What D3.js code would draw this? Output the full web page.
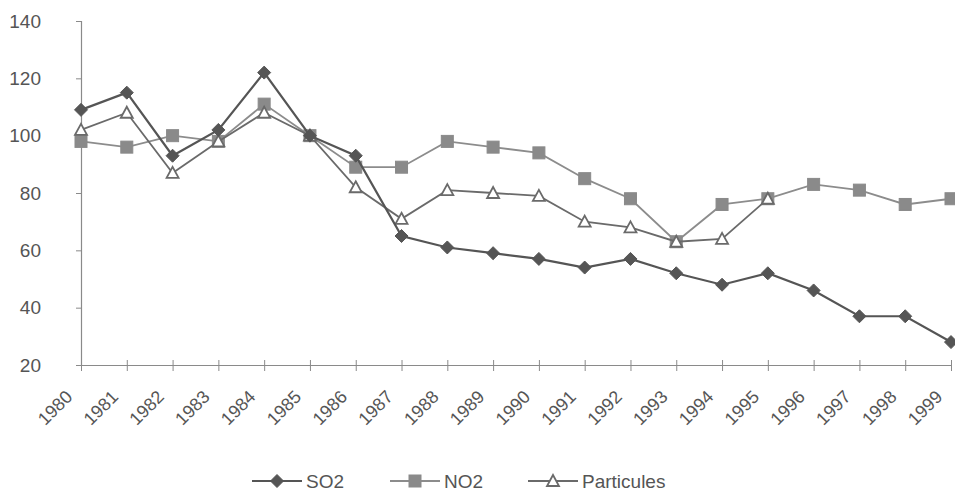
<!DOCTYPE html>
<html><head><meta charset="utf-8">
<script src="https://cdn.jsdelivr.net/npm/d3@7"></script>
<style>body{margin:0;background:#fff}svg{display:block}text{font-family:Arial,"Liberation Sans",sans-serif}</style>
</head><body><svg id="c" width="955" height="494"></svg>
<script>
const years = [1980,1981,1982,1983,1984,1985,1986,1987,1988,1989,1990,1991,1992,1993,1994,1995,1996,1997,1998,1999];
const so2 = [109,115,93,102,122,100,93,65,61,59,57,54,57,52,48,52,46,37,37,28];
const no2 = [98,96,100,98,111,100,89,89,98,96,94,85,78,63,76,78,83,81,76,78];
const particules = [102,108,87,98,108,100,82,71,81,80,79,70,68,63,64,78];
const yTicks = [20,40,60,80,100,120,140];
const seriesNames = ["SO2","NO2","Particules"];

const svg = d3.select("#c");
const x = d3.scalePoint().domain(years).range([81,951]);
const y = d3.scaleLinear().domain([20,140]).range([365,21]);
const axisCol = "#8a8a8a", textCol = "#555";

// y axis
const ya = svg.append("g").attr("transform","translate(81,0)")
  .call(d3.axisLeft(y).tickValues(yTicks).tickSize(5).tickPadding(35));
ya.select(".domain").attr("stroke",axisCol).attr("stroke-width",1.2);
ya.selectAll(".tick line").attr("stroke",axisCol);
ya.selectAll(".tick text").attr("fill",textCol).style("font-size","19px");

// x axis
const xa = svg.append("g").attr("transform","translate(0,365)")
  .call(d3.axisBottom(x).tickSize(6).tickSizeOuter(0));
xa.select(".domain").attr("stroke",axisCol).attr("stroke-width",1.2);
xa.selectAll(".tick line").attr("stroke",axisCol).attr("y1",-5);
xa.selectAll(".tick text").attr("fill",textCol).style("font-size","18px")
  .attr("text-anchor","end").attr("y",0).attr("dy",0)
  .attr("transform","translate(-8,33) rotate(-45)");

const styles = [
  {vals: so2, stroke:"#555", sw:2.2, marker:"diamond", fill:"#555", mstroke:"#555"},
  {vals: no2, stroke:"#8c8c8c", sw:1.8, marker:"square", fill:"#8a8a8a", mstroke:"#8a8a8a"},
  {vals: particules, stroke:"#6a6a6a", sw:1.8, marker:"triangle", fill:"#fff", mstroke:"#6a6a6a"}
];
function drawMarker(g, type, cx, cy, st){
  if(type==="diamond"){
    g.append("path").attr("d",`M${cx},${cy-6.5}L${cx+6.5},${cy}L${cx},${cy+6.5}L${cx-6.5},${cy}Z`)
      .attr("fill",st.fill).attr("stroke",st.mstroke).attr("stroke-width",1);
  } else if(type==="square"){
    g.append("rect").attr("x",cx-6).attr("y",cy-6).attr("width",12).attr("height",12)
      .attr("fill",st.fill).attr("stroke",st.mstroke).attr("stroke-width",1);
  } else {
    g.append("path").attr("d",`M${cx},${cy-6}L${cx+6},${cy+5}L${cx-6},${cy+5}Z`)
      .attr("fill",st.fill).attr("stroke",st.mstroke).attr("stroke-width",1.8);
  }
}
const line = d3.line().x((d,i)=>x(years[i])).y(d=>y(d));
[1,2,0].forEach(k=>{
  const st = styles[k];
  const g = svg.append("g");
  g.append("path").attr("d",line(st.vals)).attr("fill","none").attr("stroke",st.stroke).attr("stroke-width",st.sw);
  st.vals.forEach((v,i)=>drawMarker(g, st.marker, x(years[i]), y(v), st));
});

// legend
const legX = [252,390,528];
seriesNames.forEach((n,k)=>{
  const st = styles[k];
  const g = svg.append("g");
  const ly = 481;
  g.append("line").attr("x1",legX[k]).attr("x2",legX[k]+50).attr("y1",ly).attr("y2",ly)
    .attr("stroke",st.stroke).attr("stroke-width",st.sw);
  drawMarker(g, st.marker, legX[k]+25, ly, st);
  g.append("text").attr("x",legX[k]+54).attr("y",ly).attr("dy","0.35em")
    .attr("fill",textCol).style("font-size","19px").text(n);
});
</script></body></html>
